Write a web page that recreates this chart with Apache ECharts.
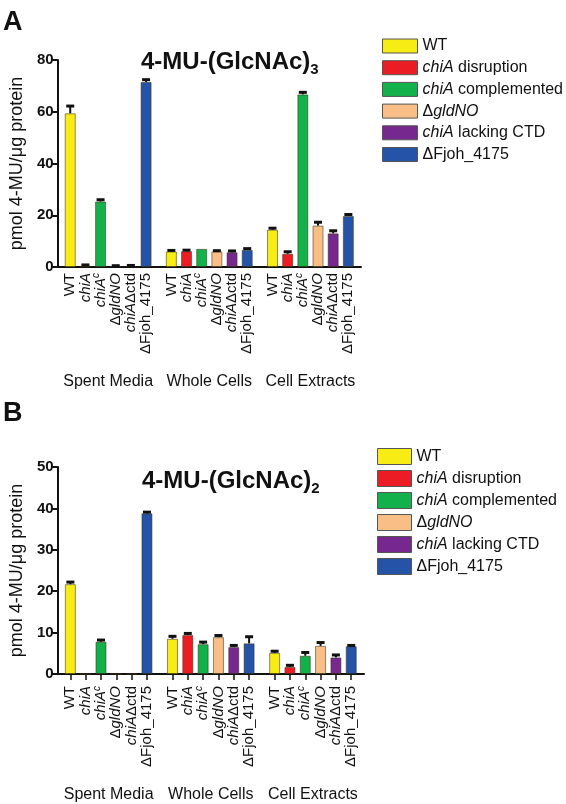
<!DOCTYPE html>
<html>
<head>
<meta charset="utf-8">
<script src="https://cdn.jsdelivr.net/npm/echarts@6/dist/echarts.min.js"></script>
<style>
html,body{margin:0;padding:0;background:#fff;}
#c{width:566px;height:804px;}
</style>
</head>
<body>
<div id="c"></div>
<script>
// ---------- data ----------
const strainLabels = ['WT', 'chiA', 'chiAc', 'ΔgldNO', 'chiAΔctd', 'ΔFjoh_4175'];
const groupNames = ['Spent Media', 'Whole Cells', 'Cell Extracts'];
const seriesNames = ['WT', 'chiA disruption', 'chiA complemented', 'ΔgldNO', 'chiA lacking CTD', 'ΔFjoh_4175'];

// Panel A: 4-MU-(GlcNAc)3
const triSpent      = [59.4, 0.5, 25.3, 0.3, 0.4, 71.5];
const triSpentErr   = [2.8, 0.3, 0.7, 0.2, 0.2, 0.9];
const triWhole      = [6.0, 6.1, 7.0, 6.0, 5.7, 6.6];
const triWholeErr   = [0.4, 0.4, 0.0, 0.3, 0.5, 0.5];
const triExtract    = [14.4, 5.1, 66.7, 16.0, 13.0, 19.7];
const triExtractErr = [0.6, 0.8, 0.8, 1.3, 1.0, 0.6];

// Panel B: 4-MU-(GlcNAc)2
const diSpent      = [21.7, 0, 7.8, 0, 0, 38.8];
const diSpentErr   = [0.5, 0, 0.4, 0, 0, 0.3];
const diWhole      = [8.5, 9.4, 7.2, 8.9, 6.5, 7.4];
const diWholeErr   = [0.6, 0.4, 0.5, 0.4, 0.4, 1.6];
const diExtract    = [5.1, 1.7, 4.4, 6.8, 4.0, 6.7];
const diExtractErr = [0.4, 0.4, 0.8, 0.8, 0.6, 0.2];

const yTicksA = [0, 20, 40, 60, 80];
const yTicksB = [0, 10, 20, 30, 40, 50];

// ---------- styling ----------
const colors = ['#f7ec13', '#ec1c24', '#13b14b', '#f9be86', '#76288f', '#2553a7'];
const FONT = 'Liberation Sans, Arial, Helvetica, sans-serif';

// category slots: blanks give spacing between bars and groups
const LEAD = 2, STEP = 3, GROUPSTEP = 20, NSLOTS = 60;
function slot(g, i) { return LEAD + g * GROUPSTEP + i * STEP; }
const cats = new Array(NSLOTS).fill('');
groupNames.forEach((g, gi) => strainLabels.forEach((s, si) => { cats[slot(gi, si)] = s; }));

const labelRich = {
  n: {fontFamily: FONT, fontSize: 15, color: '#111', lineHeight: 18},
  i: {fontFamily: FONT, fontSize: 15, color: '#111', fontStyle: 'italic', lineHeight: 18},
  s: {fontFamily: FONT, fontSize: 10, color: '#111', fontStyle: 'italic', lineHeight: 18, verticalAlign: 'top'}
};
const labelMap = {
  'WT': '{n|WT}',
  'chiA': '{i|chiA}',
  'chiAc': '{i|chiA}{s|c}',
  'ΔgldNO': '{n|Δ}{i|gldNO}',
  'chiAΔctd': '{i|chiA}{n|Δctd}',
  'ΔFjoh_4175': '{n|ΔFjoh_4175}'
};
const legendMap = {
  'WT': '{n|WT}',
  'chiA disruption': '{i|chiA}{n| disruption}',
  'chiA complemented': '{i|chiA}{n| complemented}',
  'ΔgldNO': '{n|Δ}{i|gldNO}',
  'chiA lacking CTD': '{i|chiA}{n| lacking CTD}',
  'ΔFjoh_4175': '{n|ΔFjoh_4175}'
};
const legendRich = {
  n: {fontFamily: FONT, fontSize: 16, color: '#111'},
  i: {fontFamily: FONT, fontSize: 16, color: '#111', fontStyle: 'italic'}
};

function barSeries(groups, axisIdx) {
  return seriesNames.map((name, si) => {
    const d = new Array(NSLOTS).fill(null);
    groups.forEach((vals, gi) => { d[slot(gi, si)] = vals[si]; });
    return {
      name, type: 'bar', xAxisIndex: axisIdx, yAxisIndex: axisIdx,
      data: d, barWidth: 11, barGap: '-100%',
      itemStyle: {color: colors[si], borderColor: 'rgba(60,50,20,0.55)', borderWidth: 1},
      emphasis: {disabled: true}, animation: false
    };
  });
}
function errSeries(groups, errs, axisIdx) {
  const d = [];
  groups.forEach((vals, gi) => vals.forEach((v, si) => {
    if (errs[gi][si] > 0) d.push([slot(gi, si), v, errs[gi][si]]);
  }));
  return {
    type: 'custom', xAxisIndex: axisIdx, yAxisIndex: axisIdx, z: 10, animation: false,
    encode: {x: 0, y: 1}, data: d,
    renderItem: (params, api) => {
      const x = api.value(0), v = api.value(1), e = api.value(2);
      const p0 = api.coord([x, v]), p1 = api.coord([x, v + e]);
      return {type: 'group', children: [
        {type: 'line', shape: {x1: p0[0], y1: p0[1], x2: p1[0], y2: p1[1]}, style: {stroke: '#111', lineWidth: 2}},
        {type: 'line', shape: {x1: p1[0] - 4, y1: p1[1], x2: p1[0] + 4, y2: p1[1]}, style: {stroke: '#111', lineWidth: 3}}
      ]};
    }
  };
}

function xAxis(gridIndex, showTicks, margin) {
  return {
    type: 'category', gridIndex, data: cats, boundaryGap: true,
    axisLine: {lineStyle: {color: '#111', width: 2}},
    axisTick: {show: showTicks, alignWithLabel: true, length: 6, lineStyle: {color: '#111', width: 1.5},
      interval: (idx) => cats[idx] !== ''},
    axisLabel: {interval: 0, rotate: 90, margin, formatter: (v) => labelMap[v] || '', rich: labelRich}
  };
}
function yAxis(gridIndex, ticks) {
  return {
    type: 'value', gridIndex, min: ticks[0], max: ticks[ticks.length - 1], interval: ticks[1] - ticks[0],
    name: 'pmol 4-MU/μg protein', nameLocation: 'middle', nameGap: 23, nameRotate: 90,
    nameTextStyle: {fontFamily: FONT, fontSize: 18, color: '#111'},
    axisLine: {show: true, lineStyle: {color: '#111', width: 2}},
    axisTick: {show: true, length: 6, lineStyle: {color: '#111', width: 2}},
    axisLabel: {fontFamily: FONT, fontSize: 15, fontWeight: 'bold', color: '#111', margin: 4},
    splitLine: {show: false}
  };
}
function titleText(sub) {
  return '{a|4-MU-(GlcNAc)}{b|' + sub + '}';
}
const titleRich = {
  a: {fontFamily: FONT, fontSize: 24, fontWeight: 'bold', color: '#111', lineHeight: 30},
  b: {fontFamily: FONT, fontSize: 15, fontWeight: 'bold', color: '#111', lineHeight: 30, verticalAlign: 'bottom', padding: [8, 0, 0, 0]}
};

const chart = echarts.init(document.getElementById('c'), null, {renderer: 'canvas', width: 566, height: 804});
const option = {
  animation: false,
  title: [
    {text: titleText('3'), left: 136, top: 42, textStyle: {rich: titleRich}},
    {text: titleText('2'), left: 137, top: 461, textStyle: {rich: titleRich}}
  ],
  legend: [
    {data: seriesNames, orient: 'vertical', left: 377, top: 33, icon: 'rect', itemWidth: 35, itemHeight: 14, itemGap: 5.7,
     itemStyle: {borderColor: '#555', borderWidth: 1}, selectedMode: false,
     formatter: (n) => legendMap[n], textStyle: {rich: legendRich}},
    {data: seriesNames, orient: 'vertical', left: 372, top: 443, icon: 'rect', itemWidth: 34, itemHeight: 16, itemGap: 5,
     itemStyle: {borderColor: '#555', borderWidth: 1}, selectedMode: false,
     formatter: (n) => legendMap[n], textStyle: {rich: legendRich}}
  ],
  grid: [
    {left: 49, top: 60, width: 312, height: 207},
    {left: 52, top: 467, width: 312, height: 207}
  ],
  xAxis: [xAxis(0, false, 6), xAxis(1, true, 12)],
  yAxis: [yAxis(0, yTicksA), yAxis(1, yTicksB)],
  series: [].concat(
    barSeries([triSpent, triWhole, triExtract], 0),
    [errSeries([triSpent, triWhole, triExtract], [triSpentErr, triWholeErr, triExtractErr], 0)],
    barSeries([diSpent, diWhole, diExtract], 1),
    [errSeries([diSpent, diWhole, diExtract], [diSpentErr, diWholeErr, diExtractErr], 1)]
  )
};
chart.setOption(option);

// group labels and panel letters
const graphics = [
  {type: 'text', left: 3, top: 9, style: {text: 'A', font: 'bold 27px ' + FONT, fill: '#111'}},
  {type: 'text', left: 3, top: 400, style: {text: 'B', font: 'bold 27px ' + FONT, fill: '#111'}}
];
[[0, 382], [1, 795]].forEach(([ax, y]) => {
  groupNames.forEach((g, gi) => {
    const xa = chart.convertToPixel({xAxisIndex: ax}, slot(gi, 0));
    const xb = chart.convertToPixel({xAxisIndex: ax}, slot(gi, 5));
    graphics.push({type: 'text', x: (xa + xb) / 2, y,
      style: {text: g, font: '16px ' + FONT, fill: '#111', textAlign: 'center', textVerticalAlign: 'middle'}});
  });
});
chart.setOption({graphic: graphics});
</script>
</body>
</html>
